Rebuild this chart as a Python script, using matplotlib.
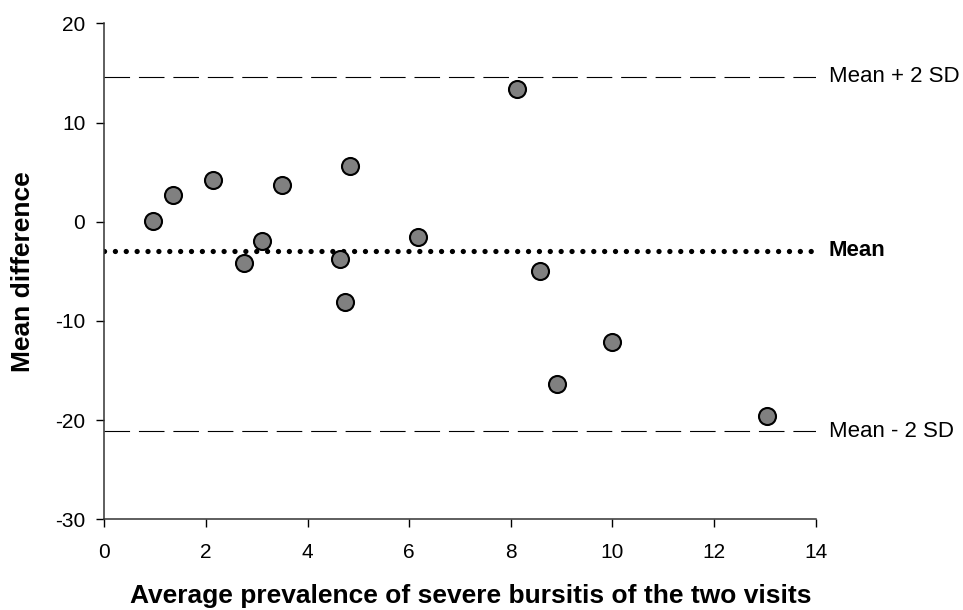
import matplotlib.pyplot as plt

plt.rcParams['font.family'] = ['Liberation Sans', 'DejaVu Sans']
plt.rcParams['axes.unicode_minus'] = False

# --- dados ---
media_prev = [0.96, 1.34, 2.13, 3.50, 4.84, 2.74, 3.10, 4.64, 6.18, 4.74,
              8.13, 8.58, 8.91, 10.0, 13.05]
diferenca = [0.1, 2.65, 4.23, 3.66, 5.61, -4.13, -1.98, -3.80, -1.54, -8.13,
             13.38, -4.94, -16.36, -12.13, -19.62]
media_dif = -2.95
limite_sup = 14.6
limite_inf = -21.1
x_ticks = [0, 2, 4, 6, 8, 10, 12, 14]
y_ticks = [-30, -20, -10, 0, 10, 20]

fig = plt.figure(figsize=(9.63, 6.10), dpi=100)
ax = fig.add_axes([0.1085, 0.1487, 0.7385, 0.8131])

# linhas de referencia
ax.plot([0, 14], [limite_sup, limite_sup], color='black', lw=0.8,
        linestyle=(0, (23, 8)))
ax.plot([0, 14], [limite_inf, limite_inf], color='black', lw=0.8,
        linestyle=(0, (23, 8)))
ax.plot([0, 14], [media_dif, media_dif], color='black', lw=3.8,
        linestyle=(0, (0.01, 2.05)), dash_capstyle='round')

# pontos
ax.scatter(media_prev, diferenca, s=150, facecolor='#808080',
           edgecolor='black', linewidth=1.5, zorder=3)

# rotulos das linhas
ax.text(14.26, limite_sup, 'Mean + 2 SD', va='center', ha='left', fontsize=16)
ax.text(14.26, media_dif, 'Mean', va='center', ha='left', fontsize=16,
        fontweight='bold')
ax.text(14.26, limite_inf, 'Mean - 2 SD', va='center', ha='left', fontsize=16)

ax.set_xlim(0, 14)
ax.set_ylim(-30, 20)
ax.set_xticks(x_ticks)
ax.set_yticks(y_ticks)
ax.tick_params(direction='out', length=5.8, width=1, labelsize=15)
ax.tick_params(axis='x', pad=11)
ax.tick_params(axis='y', pad=8)

for lado in ['top', 'right']:
    ax.spines[lado].set_visible(False)
for lado in ['left', 'bottom']:
    ax.spines[lado].set_linewidth(1.1)
    ax.spines[lado].set_color('#333333')

ax.set_xlabel('Average prevalence of severe bursitis of the two visits',
              fontsize=19, fontweight='bold')
ax.set_ylabel('Mean difference', fontsize=19, fontweight='bold')
ax.xaxis.set_label_coords(0.515, -0.13)
ax.yaxis.set_label_coords(-0.098, 0.5)

fig.savefig('out.png', dpi=100)
